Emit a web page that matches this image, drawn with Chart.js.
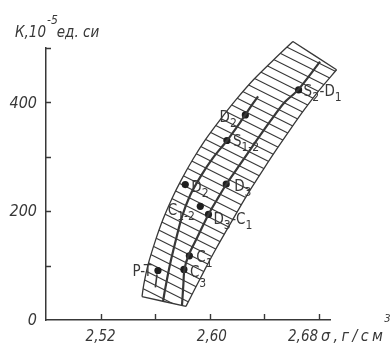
<!DOCTYPE html>
<html>
<head>
<meta charset="utf-8">
<script src="https://cdn.jsdelivr.net/npm/chart.js@4.4.1/dist/chart.umd.min.js"></script>
<style>
  html, body { margin: 0; padding: 0; background: #fff; }
  #wrap { width: 392px; height: 347px; }
</style>
</head>
<body>
<div id="wrap"><canvas id="c" width="392" height="347"></canvas></div>
<script>
// Magnetic susceptibility K (10^-5 SI units) against rock density σ (g/cm³)

// Stratigraphic units: density and susceptibility of each mean value
const unitNames   = ['S_2-D_1', 'D_2', 'S_{1-2}', 'D_3', 'D_2', 'C_{1-2}', 'D_3-C_1', 'C_1', 'C_3', 'P-T'];
const unitDensity = [2.665, 2.626, 2.6125, 2.612, 2.582, 2.593, 2.599, 2.585, 2.581, 2.562];
const unitK       = [423, 377, 330, 250, 249, 209, 194, 118, 93, 91];

// Upper (left) edge of the scatter band, bottom to top
const upperEdgeDensity = [2.5503, 2.5516, 2.5548, 2.5599, 2.5657, 2.5722, 2.5792, 2.5875, 2.5969, 2.6075, 2.6192, 2.6321, 2.6466, 2.6608];
const upperEdgeK       = [43, 65, 102, 144, 185, 223, 258, 295, 332, 368, 405, 442, 478, 512];

// Lower (right) edge of the scatter band, top to bottom
const lowerEdgeDensity = [2.6928, 2.6803, 2.6693, 2.6588, 2.6487, 2.6390, 2.6298, 2.6210, 2.6125, 2.6043, 2.5964, 2.5888, 2.5825];
const lowerEdgeK       = [460, 423, 387, 350, 313, 276, 240, 203, 166, 130, 93, 56, 25];

// Two trend curves inside the band
const trendADensity = [2.5657, 2.5672, 2.5708, 2.5752, 2.5796, 2.5855, 2.5935, 2.6023, 2.6126, 2.6221, 2.6316, 2.6353];
const trendAK       = [34, 56, 102, 148, 190, 229, 265, 298, 330, 363, 398, 411];
const trendBDensity = [2.5796, 2.5806, 2.5814, 2.5844, 2.5910, 2.5990, 2.6052, 2.6122, 2.6221, 2.6331, 2.6441, 2.6543, 2.6646, 2.6807];
const trendBK       = [27, 65, 93, 119, 153, 194, 221, 250, 286, 326, 365, 399, 423, 475];

// Short spread stroke under the P-T value
const ptStrokeDensity = [2.5613, 2.5601];
const ptStrokeK       = [84, 60];

// Axes
const xTickValues = [2.52, 2.56, 2.60, 2.64, 2.68];
const xLabelValues = [2.52, 2.60, 2.68];
const xLabelTexts  = ['2,52', '2,60', '2,68'];
const yTickValues = [100, 200, 300, 400, 500];
const yLabelValues = [0, 200, 400];
const yLabelTexts  = ['0', '200', '400'];

const zip = (xs, ys) => xs.map((x, i) => ({ x, y: ys[i] }));

const ink = '#383838';
const labelFont = s => `${s}px 'DejaVu Sans Condensed','Liberation Sans Narrow','DejaVu Sans',sans-serif`;
const axisFont = s => `italic ${s}px 'DejaVu Sans Condensed','DejaVu Sans',sans-serif`;

// Label placement next to each marker: pixel offset to the text baseline
const labelPlacement = [
  { dx: 5,  dy: 6,  align: 'left' },
  { dx: -8, dy: 7,  align: 'right' },
  { dx: 6,  dy: 6,  align: 'left' },
  { dx: 8,  dy: 7,  align: 'left' },
  { dx: 6,  dy: 7,  align: 'left' },
  { dx: -5, dy: 9,  align: 'right' },
  { dx: 5,  dy: 10, align: 'left' },
  { dx: 7,  dy: 6,  align: 'left' },
  { dx: 6,  dy: 8,  align: 'left', drop: 10 },
  { dx: -6, dy: 6,  align: 'right' }
];

function parseRich(s) {
  const out = [];
  const re = /_\{([^}]*)\}|_(.)|([^_]+)/g;
  let m;
  while ((m = re.exec(s))) {
    if (m[1] !== undefined) out.push({ t: m[1], sub: true });
    else if (m[2] !== undefined) out.push({ t: m[2], sub: true });
    else out.push({ t: m[3], sub: false });
  }
  return out;
}

function drawRich(ctx, s, x, y, opt) {
  const parts = parseRich(s);
  const main = opt.main || 15, sub = opt.sub || 12, drop = opt.drop != null ? opt.drop : 5;
  let w = 0;
  parts.forEach(p => { ctx.font = labelFont(p.sub ? sub : main); p.w = ctx.measureText(p.t).width + (p.sub ? 0.5 : 0); w += p.w; });
  let cx = opt.align === 'right' ? x - w : x;
  ctx.textAlign = 'left';
  ctx.textBaseline = 'alphabetic';
  parts.forEach(p => {
    ctx.font = labelFont(p.sub ? sub : main);
    ctx.fillText(p.t, cx, p.sub ? y + drop : y);
    cx += p.w;
  });
}

function tracePoints(ctx, pts, start) {
  pts.forEach((p, i) => {
    if (i === 0) { start ? ctx.moveTo(p.x, p.y) : ctx.lineTo(p.x, p.y); return; }
    const q = pts[i - 1];
    if (q.cp2x !== undefined && p.cp1x !== undefined) ctx.bezierCurveTo(q.cp2x, q.cp2y, p.cp1x, p.cp1y, p.x, p.y);
    else ctx.lineTo(p.x, p.y);
  });
}

// Hatching inside the band, clipped to the two edge curves
const bandHatch = {
  id: 'bandHatch',
  beforeDatasetsDraw(chart) {
    const ctx = chart.ctx;
    const up = chart.getDatasetMeta(0), lo = chart.getDatasetMeta(1);
    up.dataset.updateControlPoints(chart.chartArea, 'x');
    lo.dataset.updateControlPoints(chart.chartArea, 'x');
    const all = up.data.concat(lo.data);
    const minX = Math.min(...all.map(p => p.x)) - 5, maxX = Math.max(...all.map(p => p.x)) + 5;
    const minY = Math.min(...all.map(p => p.y)) - 5, maxY = Math.max(...all.map(p => p.y)) + 5;
    ctx.save();
    ctx.beginPath();
    tracePoints(ctx, up.data, true);
    tracePoints(ctx, lo.data, false);
    ctx.closePath();
    ctx.clip();
    ctx.strokeStyle = ink;
    ctx.lineWidth = 1.1;
    const slope = 0.5, step = 9.5;
    ctx.beginPath();
    for (let c = minY - slope * maxX; c <= maxY - slope * minX; c += step) {
      ctx.moveTo(minX, c + slope * minX);
      ctx.lineTo(maxX, c + slope * maxX);
    }
    ctx.stroke();
    ctx.restore();
  }
};

// Inward tick marks, tick labels, axis titles and unit labels
const annotations = {
  id: 'annotations',
  afterDatasetsDraw(chart) {
    const ctx = chart.ctx;
    const xs = chart.scales.x, ys = chart.scales.y;
    const area = chart.chartArea;
    ctx.save();
    ctx.strokeStyle = ink;
    ctx.fillStyle = ink;
    ctx.lineWidth = 1.4;
    ctx.beginPath();
    xTickValues.forEach(v => {
      const px = Math.round(xs.getPixelForValue(v)) + 0.5;
      ctx.moveTo(px, area.bottom); ctx.lineTo(px, area.bottom - 6);
    });
    yTickValues.forEach(v => {
      const py = Math.round(ys.getPixelForValue(v)) + 0.5;
      ctx.moveTo(area.left, py); ctx.lineTo(area.left + 5, py);
    });
    ctx.stroke();

    // tick labels
    ctx.font = axisFont(15);
    ctx.textBaseline = 'alphabetic';
    xLabelValues.forEach((v, i) => {
      const px = xs.getPixelForValue(v);
      const last = i === xLabelValues.length - 1;
      ctx.textAlign = last ? 'right' : 'center';
      ctx.fillText(xLabelTexts[i], last ? px - 1 : px + (i === 1 ? 2 : 0), area.bottom + 21);
    });
    ctx.font = axisFont(16);
    ctx.textAlign = 'right';
    ctx.textBaseline = 'middle';
    yLabelValues.forEach((v, i) => {
      ctx.fillText(yLabelTexts[i], area.left - 9, ys.getPixelForValue(v) + 1);
    });

    // x axis title
    ctx.textAlign = 'left';
    ctx.textBaseline = 'alphabetic';
    ctx.font = axisFont(16);
    const xt = 'σ,г/см';
    let tx = xs.getPixelForValue(2.68) + 2;
    for (const ch of xt) {
      ctx.fillText(ch, tx, area.bottom + 21);
      tx += ctx.measureText(ch).width + 3.4;
    }
    ctx.font = axisFont(11);
    ctx.fillText('3', tx - 2, area.bottom + 2);

    // y axis title
    ctx.font = axisFont(15);
    const yt1 = 'К,10';
    ctx.fillText(yt1, 15, 37);
    let cx = 15 + ctx.measureText(yt1).width + 1;
    ctx.font = axisFont(12);
    ctx.fillText('-5', cx, 24);
    cx += ctx.measureText('-5').width - 1;
    ctx.font = axisFont(15);
    ctx.fillText('ед. си', cx, 37);

    // unit labels next to markers
    const pm = chart.getDatasetMeta(chart.data.datasets.length - 1);
    pm.data.forEach((pt, i) => {
      const pl = labelPlacement[i];
      drawRich(ctx, unitNames[i], pt.x + pl.dx, pt.y + pl.dy, { align: pl.align, drop: pl.drop });
    });
    ctx.restore();
  }
};

const curve = (data, width) => ({
  type: 'scatter', data, showLine: true, borderColor: ink, backgroundColor: ink,
  borderWidth: width, pointRadius: 0, tension: 0.3, clip: false, fill: false
});

const upperEdge = zip(upperEdgeDensity, upperEdgeK);
const lowerEdge = zip(lowerEdgeDensity, lowerEdgeK);

new Chart(document.getElementById('c'), {
  type: 'scatter',
  data: {
    datasets: [
      curve(upperEdge, 1.3),
      curve(lowerEdge, 1.3),
      curve([upperEdge[upperEdge.length - 1], lowerEdge[0]], 1.3),
      curve([upperEdge[0], lowerEdge[lowerEdge.length - 1]], 1.3),
      curve(zip(trendADensity, trendAK), 2.2),
      curve(zip(trendBDensity, trendBK), 2.2),
      curve(zip(ptStrokeDensity, ptStrokeK), 1.6),
      {
        type: 'scatter', data: zip(unitDensity, unitK), showLine: false,
        pointRadius: 3.6, pointBackgroundColor: '#1e1e1e', pointBorderColor: '#1e1e1e',
        pointBorderWidth: 0, clip: false
      }
    ]
  },
  options: {
    responsive: false,
    animation: false,
    events: [],
    layout: { padding: { left: 46, right: 62, top: 48, bottom: 27 } },
    elements: { line: { capBezierPoints: false } },
    plugins: { legend: { display: false }, tooltip: { enabled: false } },
    scales: {
      x: {
        type: 'linear', min: 2.48, max: 2.688,
        grid: { display: false, drawTicks: false },
        ticks: { display: false },
        border: { display: true, color: ink, width: 1.5 }
      },
      y: {
        type: 'linear', min: 0, max: 500,
        grid: { display: false, drawTicks: false },
        ticks: { display: false },
        border: { display: true, color: ink, width: 1.5 }
      }
    }
  },
  plugins: [bandHatch, annotations]
});
</script>
</body>
</html>
